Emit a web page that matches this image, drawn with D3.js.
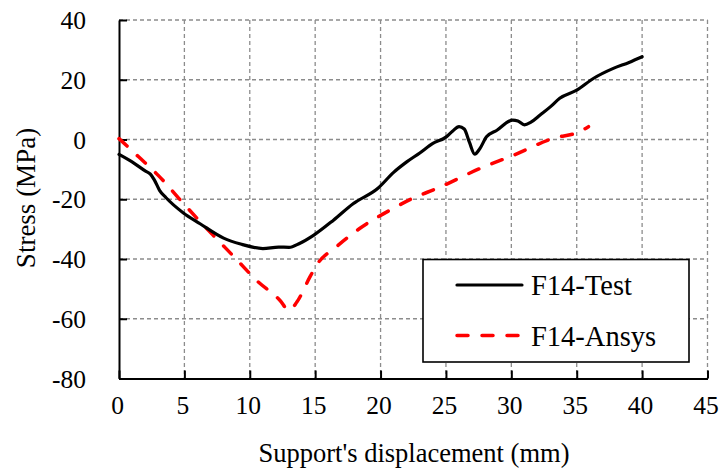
<!DOCTYPE html>
<html><head><meta charset="utf-8">
<script src="https://cdn.jsdelivr.net/npm/d3@7"></script>
<style>
body{margin:0;background:#fff;}
text{font-family:"Liberation Serif","Times New Roman",serif;fill:#000;}
</style></head>
<body><svg id="c" width="720" height="470"></svg>
<script>
const testX = [0,1,2,2.4,2.7,3.1,3.6,4.9,6.2,8,9.3,11,12.2,13,13.8,14.9,16.4,17.9,19.8,21,22,23,24,25,25.5,26,26.4,26.8,27.2,27.6,28.1,28.9,30.1,30.5,31,31.5,32.2,33,33.7,35,36.3,37.8,39,40];
const testY = [-5,-7.5,-10.5,-11.6,-13.5,-17,-19.5,-24.5,-28.2,-33,-35,-36.5,-36,-36.1,-34.8,-32,-27,-21.5,-16.3,-11,-7.5,-4.5,-1.3,0.8,2.8,4.3,3.5,-1,-4.9,-3,0.9,3.1,6.5,6.2,4.9,5.8,8.2,11,13.8,16.5,20.5,23.8,25.8,27.7];
const ansysX = [0,1.5,3,4.7,6.2,7.7,9,10.5,12.3,13,13.6,14.6,15.1,16.6,18.4,20.7,22.6,24.3,27.6,30.2,33.2,35.2,35.9];
const ansysY = [0.3,-5.8,-12,-20.3,-27.5,-34.3,-40.2,-47.1,-53.8,-57.2,-54.4,-46,-42.1,-36,-29.8,-23.7,-19.4,-16.4,-9.7,-5.2,0.4,2.6,4.3];
const xTicks = [0,5,10,15,20,25,30,35,40,45];
const yTicks = [-80,-60,-40,-20,0,20,40];
const seriesNames = ["F14-Test","F14-Ansys"];
const xTitle = "Support's displacement (mm)";
const yTitle = "Stress (MPa)";

const svg = d3.select("#c");
const L=119, R=707.5, T=20, B=378.5;
const x = d3.scaleLinear().domain([0,45]).range([L,R]);
const y = d3.scaleLinear().domain([-80,40]).range([B,T]);

// gridlines
const g = svg.append("g");
g.selectAll(".gx").data(xTicks.filter(d=>d>0)).enter().append("line")
 .attr("x1",d=>x(d)).attr("x2",d=>x(d)).attr("y1",T).attr("y2",B)
 .attr("stroke","#8c8c8c").attr("stroke-width",1.3).attr("stroke-dasharray","4,3");
g.selectAll(".gy").data(yTicks.filter(d=>d>-80)).enter().append("line")
 .attr("x1",L).attr("x2",R).attr("y1",d=>y(d)).attr("y2",d=>y(d))
 .attr("stroke","#8c8c8c").attr("stroke-width",1.3).attr("stroke-dasharray","4,3");

const fmt = d => String(d);
// axes
const xa = svg.append("g").attr("transform",`translate(0,${B})`)
 .call(d3.axisBottom(x).tickValues(xTicks).tickFormat(fmt).tickSizeInner(-8).tickSizeOuter(0).tickPadding(18));
xa.select(".domain").attr("stroke","#000").attr("stroke-width",2);
xa.selectAll(".tick line").attr("stroke","#000").attr("stroke-width",2);
xa.selectAll(".tick text").attr("font-size",25.5).attr("font-family","Liberation Serif").attr("dx",-2).attr("y",17).attr("dy","0.71em");

const ya = svg.append("g").attr("transform",`translate(${L},0)`)
 .call(d3.axisLeft(y).tickValues(yTicks).tickFormat(fmt).tickSizeInner(-8).tickSizeOuter(0).tickPadding(34));
ya.select(".domain").attr("stroke","#000").attr("stroke-width",2);
ya.selectAll(".tick line").attr("stroke","#000").attr("stroke-width",2);
ya.selectAll(".tick text").attr("font-size",25.5).attr("font-family","Liberation Serif").attr("x",-33).attr("dy","0.34em");

// lines
const line = d3.line().x(d=>x(d[0])).y(d=>y(d[1])).curve(d3.curveMonotoneX);
const testData = testX.map((v,i)=>[v,testY[i]]);
const ansysData = ansysX.map((v,i)=>[v,ansysY[i]]);
svg.append("path").datum(ansysData).attr("d",line).attr("fill","none")
 .attr("stroke","#ff0000").attr("stroke-width",3.5).attr("stroke-dasharray","11,14").attr("stroke-linecap","round");
svg.append("path").datum(testData).attr("d",line).attr("fill","none")
 .attr("stroke","#000").attr("stroke-width",3.2).attr("stroke-linecap","round").attr("stroke-linejoin","round");

// titles
svg.append("text").attr("x",414).attr("y",462).attr("text-anchor","middle").attr("font-size",26.5).text(xTitle);
svg.append("text").attr("transform","translate(35,198) rotate(-90)").attr("text-anchor","middle").attr("font-size",27).text(yTitle);

// legend
const lg = svg.append("g");
lg.append("rect").attr("x",423).attr("y",259.5).attr("width",266).attr("height",102.5)
 .attr("fill","#fff").attr("stroke","#000").attr("stroke-width",1.6);
lg.append("line").attr("x1",457).attr("x2",522).attr("y1",285).attr("y2",285)
 .attr("stroke","#000").attr("stroke-width",3.2).attr("stroke-linecap","round");
lg.append("line").attr("x1",457).attr("x2",522).attr("y1",335.5).attr("y2",335.5)
 .attr("stroke","#ff0000").attr("stroke-width",3.5).attr("stroke-dasharray","11,14").attr("stroke-linecap","round");
lg.append("text").attr("x",531).attr("y",295).attr("font-size",28.5).text(seriesNames[0]);
lg.append("text").attr("x",531).attr("y",345.5).attr("font-size",28.5).text(seriesNames[1]);
</script></body></html>
